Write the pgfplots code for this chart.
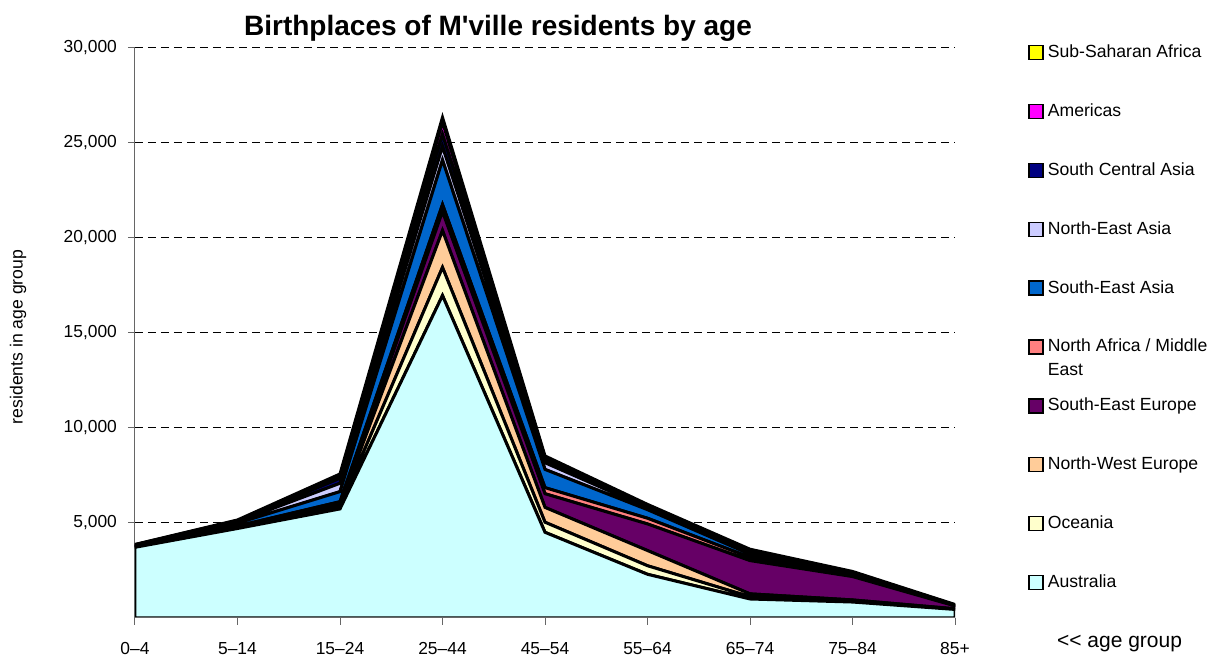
\documentclass[border=0pt]{standalone}
\usepackage{fontspec}
\setmainfont{Liberation Sans}
\usepackage{pgfplots}
\pgfplotsset{compat=1.18}
\definecolor{axisgray}{HTML}{666666}
\definecolor{cAus}{HTML}{CCFFFF}
\definecolor{cOce}{HTML}{FFFFCC}
\definecolor{cNWE}{HTML}{FFCC99}
\definecolor{cSEE}{HTML}{660066}
\definecolor{cNAf}{HTML}{FF8080}
\definecolor{cSEA}{HTML}{0066CC}
\definecolor{cNEA}{HTML}{CCCCFF}
\definecolor{cSCA}{HTML}{000080}
\definecolor{cAme}{HTML}{FF00FF}
\definecolor{cSSA}{HTML}{FFFF00}
\begin{document}
\begin{tikzpicture}
\begin{axis}[
  name=ax, at={(0,0)}, anchor=south west,
  scale only axis, width=410pt, height=285pt,
  xmin=0, xmax=8, ymin=0, ymax=30000,
  stack plots=y,
  axis x line*=bottom, axis y line*=left,
  axis line style={axisgray, line width=0.5pt},
  xtick={0,...,8},
  xticklabels={0–4,5–14,15–24,25–44,45–54,55–64,65–74,75–84,85+},
  ytick={5000,10000,15000,20000,25000,30000},
  scaled y ticks=false,
  /pgf/number format/fixed,
  /pgf/number format/1000 sep={,},
  /pgf/number format/assume math mode=true,
  tick label style={font=\fontsize{8.7}{10}\selectfont, text=black},
  xticklabel style={yshift=-5pt},
  yticklabel style={xshift=-2pt},
  tick align=outside, major tick length=3.5pt,
  tick style={axisgray, line width=0.5pt},
  ymajorgrids,
  major grid style={black, line width=0.5pt, dash pattern=on 4pt off 2.5pt},
  ylabel={residents in age group},
  ylabel style={font=\fontsize{8.8}{10}\selectfont, at={(axis description cs:-0.1427,0.493)}, anchor=center},
  every axis plot/.append style={draw=black, line width=1.5pt, mark=none},
  legend image code/.code={\draw[#1, draw=black, line width=0.75pt] (0pt,-3.5pt) rectangle (7pt,3.5pt);},
  reverse legend,
  legend style={at={(axis description cs:1.0890,1.0132)}, anchor=north west,
    draw=none, fill=none, inner sep=0pt, row sep=17.55pt,
    font=\fontsize{8.8}{12}\selectfont, cells={anchor=west},
    nodes={inner sep=2pt, text depth=0.15em}},
]
\addplot[fill=cAus] coordinates {(0,3720) (1,4710) (2,5740) (3,16970) (4,4510) (5,2300) (6,1000) (7,840) (8,450)} \closedcycle;
\addlegendentry{Australia}
\addplot[fill=cOce] coordinates {(0,15) (1,30) (2,100) (3,1480) (4,530) (5,450) (6,120) (7,50) (8,15)} \closedcycle;
\addlegendentry{Oceania}
\addplot[fill=cNWE] coordinates {(0,20) (1,40) (2,110) (3,1940) (4,780) (5,800) (6,150) (7,60) (8,20)} \closedcycle;
\addlegendentry{North-West Europe}
\addplot[fill=cSEE] coordinates {(0,10) (1,30) (2,80) (3,1000) (4,720) (5,1400) (6,1750) (7,1230) (8,150)} \closedcycle;
\addlegendentry{South-East Europe}
\addplot[fill=cNAf] coordinates {(0,15) (1,30) (2,90) (3,370) (4,320) (5,300) (6,170) (7,60) (8,10)} \closedcycle;
\addlegendentry{\vtop{\hbox{North Africa / Middle}\hbox{East}}}
\addplot[fill=cSEA] coordinates {(0,35) (1,150) (2,530) (3,2340) (4,960) (5,450) (6,170) (7,60) (8,15)} \closedcycle;
\addlegendentry{South-East Asia}
\addplot[fill=cNEA] coordinates {(0,20) (1,70) (2,440) (3,710) (4,350) (5,100) (6,80) (7,40) (8,10)} \closedcycle;
\addlegendentry{North-East Asia}
\addplot[fill=cSCA] coordinates {(0,15) (1,40) (2,260) (3,640) (4,120) (5,70) (6,70) (7,30) (8,10)} \closedcycle;
\addlegendentry{South Central Asia}
\addplot[fill=cAme] coordinates {(0,10) (1,30) (2,140) (3,650) (4,160) (5,60) (6,50) (7,30) (8,10)} \closedcycle;
\addlegendentry{Americas}
\addplot[fill=cSSA] coordinates {(0,10) (1,30) (2,90) (3,250) (4,80) (5,50) (6,60) (7,50) (8,20)} \closedcycle;
\addlegendentry{Sub-Saharan Africa}
\end{axis}
\draw[axisgray, line width=0.5pt] (ax.south west) -- (ax.south east);
\node[anchor=base, font=\bfseries\fontsize{14}{16}\selectfont] at ([shift={(181.5pt,291pt)}]ax.south west) {Birthplaces of M\textquotesingle ville residents by age};
\node[anchor=base west, font=\fontsize{10.5}{12}\selectfont] at ([shift={(457.5pt,-15pt)}]ax.south west) {<{}< age group};
\pgfresetboundingbox
\path[use as bounding box] (-67.5pt,-19pt) rectangle (537pt,309pt);
\end{tikzpicture}
\end{document}
